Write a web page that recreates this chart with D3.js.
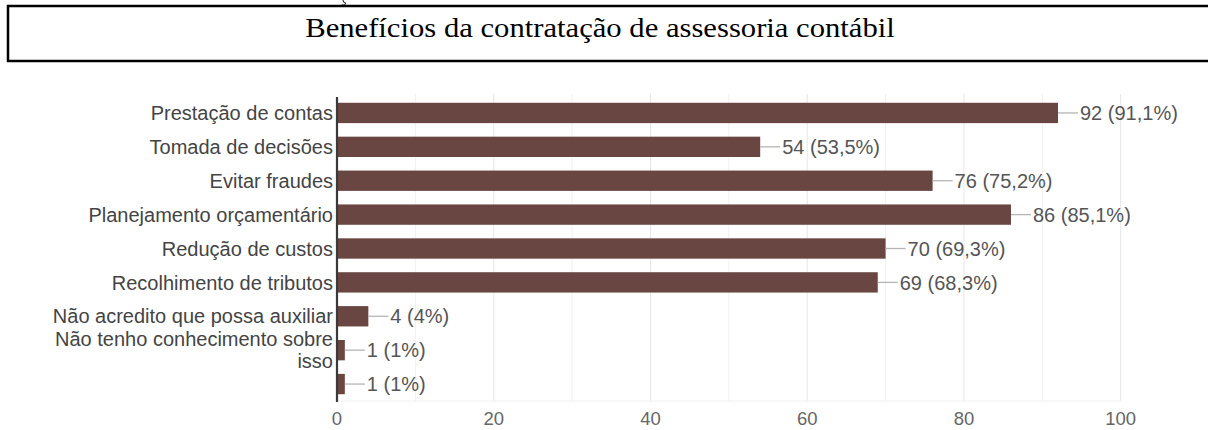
<!DOCTYPE html>
<html>
<head>
<meta charset="utf-8">
<script src="https://cdn.jsdelivr.net/npm/d3@7"></script>
<style>
  html, body { margin: 0; padding: 0; background: #fff; }
  svg { display: block; }
</style>
</head>
<body>
<svg id="chart" width="1208" height="430"></svg>
<script>
const titleText = "Benefícios da contratação de assessoria contábil";
const categories = [
  "Prestação de contas",
  "Tomada de decisões",
  "Evitar fraudes",
  "Planejamento orçamentário",
  "Redução de custos",
  "Recolhimento de tributos",
  "Não acredito que possa auxiliar",
  "Não tenho conhecimento sobre isso",
  ""
];
const values = [92, 54, 76, 86, 70, 69, 4, 1, 1];
const percents = ["91,1%", "53,5%", "75,2%", "85,1%", "69,3%", "68,3%", "4%", "1%", "1%"];
const tickValues = [0, 20, 40, 60, 80, 100];
const gridValues = [10, 20, 30, 40, 50, 60, 70, 80, 90, 100];

const svg = d3.select("#chart");
const SANS = "'Liberation Sans', Arial, sans-serif";

// stray cedilla mark from the page above (graphic fragment)
svg.append("path").attr("d", "M343,0 L343.5,2 Q346,2.2 345.5,4 Q344.5,5.5 341.5,5")
  .attr("fill", "none").attr("stroke", "#000").attr("stroke-width", 0.9);

// title box
svg.append("rect").attr("x", 8).attr("y", 6).attr("width", 1210).attr("height", 55)
  .attr("fill", "none").attr("stroke", "#000").attr("stroke-width", 2.5);
svg.append("g").attr("transform", "translate(600,37) scale(1.148,1)")
  .append("text").attr("text-anchor", "middle")
  .attr("font-family", "'Liberation Serif', 'Times New Roman', serif")
  .attr("font-size", 26.7).attr("fill", "#000").text(titleText);

const x = d3.scaleLinear().domain([0, 100]).range([337, 1120.7]);
const y = d3.scaleBand().domain(d3.range(categories.length))
  .range([96, 401]).paddingInner(0.4).paddingOuter(0.2);

// grid
svg.append("g").selectAll("line").data(gridValues).join("line")
  .attr("x1", d => x(d)).attr("x2", d => x(d))
  .attr("y1", 94).attr("y2", 401)
  .attr("stroke", d => d % 20 === 0 ? "#e6e6e6" : "#f0f0f0").attr("stroke-width", 1);
svg.append("line").attr("x1", x(0)).attr("x2", x(100)).attr("y1", 401).attr("y2", 401)
  .attr("stroke", "#f0f0f0");

// bars
svg.append("g").selectAll("rect").data(values).join("rect")
  .attr("x", x(0)).attr("y", (d, i) => y(i))
  .attr("width", d => x(d) - x(0)).attr("height", y.bandwidth())
  .attr("fill", "#6a4642");

// connectors + value labels
const vl = svg.append("g").selectAll("g").data(values).join("g");
vl.append("line")
  .attr("x1", d => x(d)).attr("x2", d => x(d) + 20)
  .attr("y1", (d, i) => y(i) + y.bandwidth() / 2).attr("y2", (d, i) => y(i) + y.bandwidth() / 2)
  .attr("stroke", "#b5b5b5").attr("stroke-width", 1.3);
vl.append("text")
  .attr("x", d => x(d) + 22).attr("y", (d, i) => y(i) + y.bandwidth() / 2)
  .attr("dy", "0.36em").attr("font-family", SANS).attr("font-size", 20)
  .attr("fill", "#555").text((d, i) => `${d} (${percents[i]})`);

// axis line
svg.append("line").attr("x1", x(0)).attr("x2", x(0)).attr("y1", 97).attr("y2", 402)
  .attr("stroke", "#3a3a3a").attr("stroke-width", 2.2);

// category labels with wrapping
const maxW = 300;
const labG = svg.append("g");
categories.forEach((c, i) => {
  if (!c) return;
  const cy = y(i) + y.bandwidth() / 2;
  const t = labG.append("text").attr("text-anchor", "end")
    .attr("font-family", SANS).attr("font-size", 20).attr("fill", "#444");
  const words = c.split(" ");
  let lines = [];
  let cur = [];
  const probe = t.append("tspan");
  words.forEach(w => {
    const test = cur.concat([w]).join(" ");
    probe.text(test);
    if (probe.node().getComputedTextLength() > maxW && cur.length) {
      lines.push(cur.join(" "));
      cur = [w];
    } else cur.push(w);
  });
  lines.push(cur.join(" "));
  probe.remove();
  const lh = 22;
  lines.forEach((ln, k) => {
    t.append("tspan").attr("x", 333)
      .attr("y", cy + (k - (lines.length - 1) / 2) * lh)
      .attr("dy", "0.36em").text(ln);
  });
});

// tick labels
svg.append("g").selectAll("text").data(tickValues).join("text")
  .attr("x", d => x(d)).attr("y", 419).attr("dy", "0.35em")
  .attr("text-anchor", "middle").attr("font-family", SANS).attr("font-size", 18.5)
  .attr("fill", "#666").text(d => d);
</script>
</body>
</html>
